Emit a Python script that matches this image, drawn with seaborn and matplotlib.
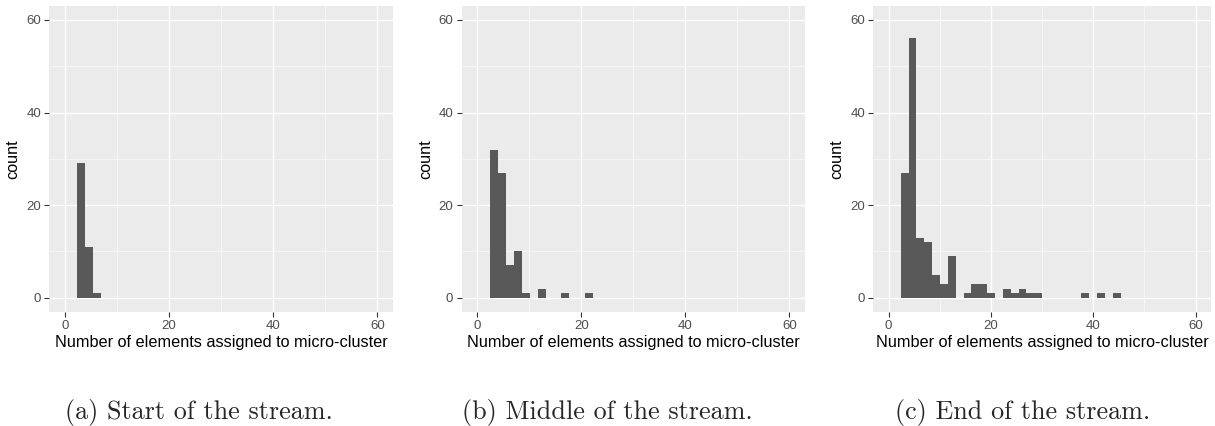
import numpy as np
import pandas as pd
import seaborn as sns
import matplotlib
matplotlib.use("Agg")
import matplotlib.pyplot as plt
from matplotlib.ticker import MultipleLocator

# ---- data ----
bin_start = 2.37
bin_width = 1.535
counts_start = [29, 11, 1]
counts_middle = [32, 27, 7, 10, 1, 0, 2, 0, 0, 1, 0, 0, 1]
counts_end = [27, 56, 13, 12, 5, 3, 9, 0, 1, 3, 3, 1, 0, 2, 1, 2, 1, 1,
              0, 0, 0, 0, 0, 1, 0, 1, 0, 1]
captions = ["(a) Start of the stream.", "(b) Middle of the stream.", "(c) End of the stream."]
x_ticks = [0, 20, 40, 60]
y_ticks = [0, 20, 40, 60]
x_label = "Number of elements assigned to micro-cluster"
y_label = "count"

sns.set_theme(style="darkgrid")
plt.rcParams["font.family"] = ["Liberation Sans", "DejaVu Sans"]

W, H = 1215, 426
fig = plt.figure(figsize=(W / 100, H / 100), dpi=100)

axes_px = [(49.3, 393.0), (461.7, 805.0), (873.3, 1211.0)]
top_px, bottom_px = 6.0, 311.7
caption_x = [199, 607, 1023]

for (l, r), counts, cap, cx in zip(axes_px, [counts_start, counts_middle, counts_end], captions, caption_x):
    ax = fig.add_axes([l / W, (H - bottom_px) / H, (r - l) / W, (bottom_px - top_px) / H])
    n = len(counts)
    edges = bin_start + bin_width * np.arange(n + 1)
    centers = (edges[:-1] + edges[1:]) / 2
    df = pd.DataFrame({"x": centers, "w": counts})
    sns.histplot(data=df, x="x", weights="w", binwidth=bin_width,
                 binrange=(float(edges[0]), float(edges[-1])), ax=ax,
                 color="#595959", alpha=1, linewidth=0, edgecolor="none")
    ax.set_facecolor("#EBEBEB")
    ax.set_xlim(-3, 63)
    ax.set_ylim(-3, 63)
    ax.set_xticks(x_ticks)
    ax.set_yticks(y_ticks)
    ax.xaxis.set_minor_locator(MultipleLocator(10))
    ax.yaxis.set_minor_locator(MultipleLocator(10))
    ax.grid(which="major", color="white", linewidth=1.0)
    ax.grid(which="minor", color="#F7F7F7", linewidth=0.6)
    ax.set_axisbelow(True)
    for s in ax.spines.values():
        s.set_visible(False)
    ax.tick_params(which="major", length=3.5, width=0.8, color="#333333",
                   labelcolor="#4D4D4D", labelsize=9.5, pad=2.5,
                   bottom=True, left=True)
    ax.tick_params(which="minor", length=0)
    ax.set_xlabel(x_label, fontsize=11.7, color="black", labelpad=2)
    ax.set_ylabel(y_label, fontsize=11.7, color="black", labelpad=4)
    fig.text(cx / W, (H - 412) / H, cap, fontsize=18.8, family="cmr10",
             ha="center", va="center")

fig.savefig("out.png", dpi=100)
